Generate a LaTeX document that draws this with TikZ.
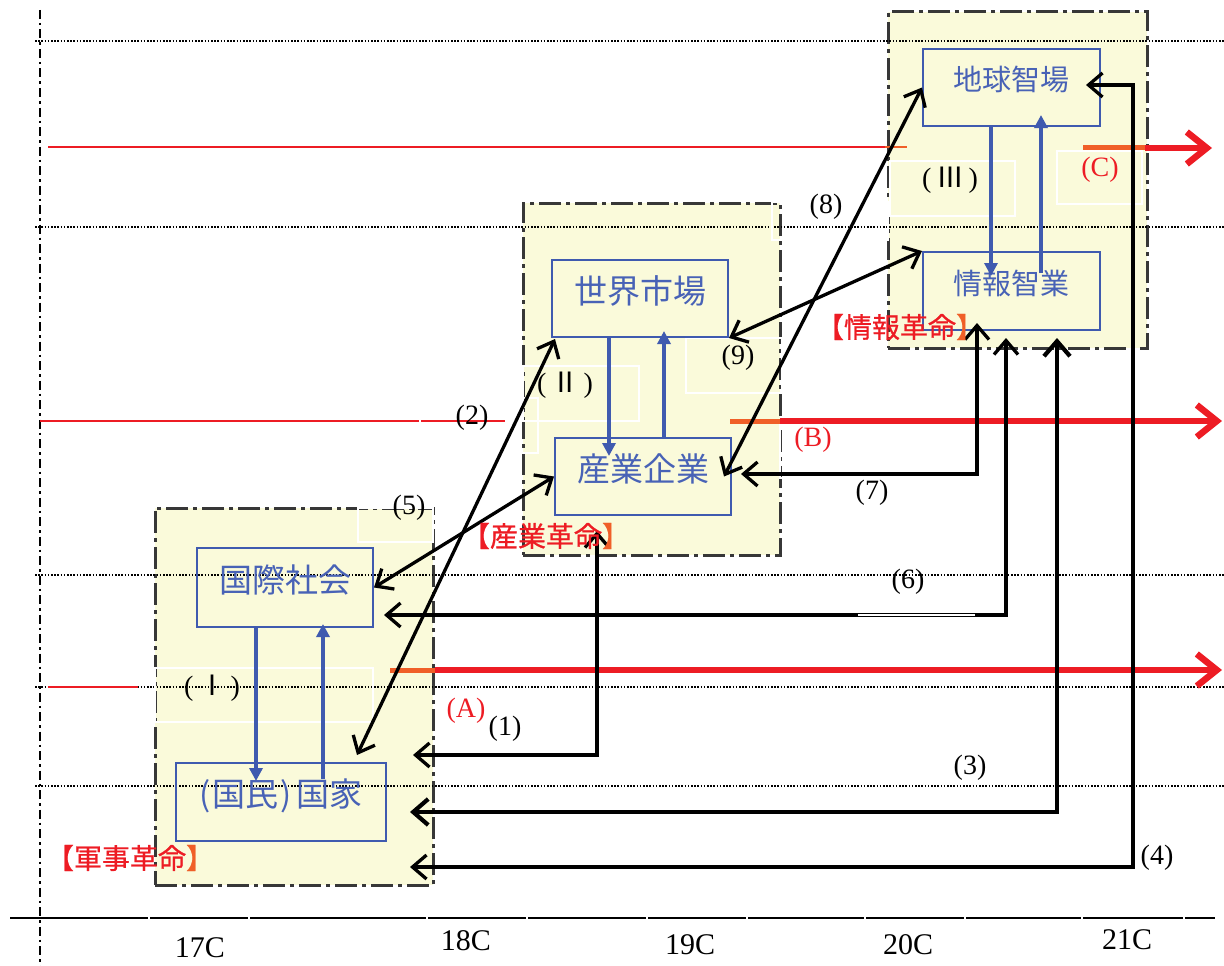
\documentclass[tikz,border=0pt]{standalone}
\usepackage{fontspec}
\setmainfont{Liberation Serif}
\newfontfamily\cjk{Noto Sans CJK JP}
\newfontfamily\cjkbold[FakeBold=0.8]{Noto Sans CJK JP}
\usetikzlibrary{arrows.meta,calc}
\definecolor{boxfill}{RGB}{250,250,218}
\definecolor{bluebox}{RGB}{63,90,175}
\definecolor{bluetext}{RGB}{72,98,182}
\definecolor{redline}{RGB}{237,28,36}
\definecolor{orangeline}{RGB}{240,95,40}
\definecolor{bordergray}{RGB}{55,55,55}
\begin{document}
\begin{tikzpicture}[x=1pt,y=-1pt,
  bigbox/.style={draw=bordergray, fill=boxfill, line width=3pt,
     dash pattern=on 22pt off 5pt on 4pt off 5pt, inner sep=0pt},
  bluenode/.style={draw=bluebox, line width=2pt, inner sep=0pt,
     font=\cjk\fontsize{29}{31}\selectfont, text=bluetext,
     text height=25pt, text depth=18pt},
  bigtext/.style={font=\cjk\fontsize{33}{35}\selectfont, text height=28pt, text depth=19pt},
  dotline/.style={line width=2pt, dash pattern=on 1.6pt off 1.6pt},
  thinred/.style={draw=redline, line width=2pt},
  redarrow/.style={draw=redline, line width=6.5pt, -{Straight Barb[length=20pt,width=32pt]}},
  orangeseg/.style={draw=orangeline, line width=5pt},
  whiterect/.style={draw=white, line width=1.5pt},
  bluearr/.style={draw=bluebox, line width=3.5pt, -{Triangle[length=13pt,width=13pt]}},
  conn/.style={line width=3.3pt, {Straight Barb[length=14pt,width=24pt]}-{Straight Barb[length=14pt,width=24pt]}},
  connthick/.style={line width=4.2pt, {Straight Barb[length=15pt,width=26pt]}-{Straight Barb[length=15pt,width=26pt]}},
  numlab/.style={font=\fontsize{28}{30}\selectfont, inner sep=0pt},
  redlab/.style={font=\fontsize{28}{30}\selectfont, text=redline, inner sep=0pt},
  revlab/.style={font=\cjkbold\fontsize{28}{30}\selectfont, text=redline, inner sep=0pt},
  axislab/.style={font=\fontsize{30}{32}\selectfont, inner sep=0pt}
]
\useasboundingbox (0,0) rectangle (1224,966);

% big era boxes
\node[bigbox, minimum width=278pt, minimum height=377pt] (boxI) at (294,696.5) {};
\node[bigbox, minimum width=257pt, minimum height=352pt] (boxII) at (651.5,379) {};
\node[bigbox, minimum width=259pt, minimum height=336pt] (boxIII) at (1017.5,180) {};

% vertical dash-dot line and dotted grid
\draw[line width=2.5pt, dash pattern=on 9pt off 4pt on 2.5pt off 4pt] (40,10) -- (40,966);
\foreach \yy in {41,227,575,687,786}
  \draw[dotline] (35,\yy) -- (1224,\yy);

% thin red lines
\draw[thinred] (48,147) -- (885,147);
\draw[draw=orangeline, line width=2pt] (885,147) -- (907,147);
\draw[thinred] (40,421) -- (505,421);
\draw[thinred] (48,687) -- (138,687);

% faint white label frames
\draw[whiterect] (155,668) rectangle (373,722);
\draw[whiterect] (523,366) rectangle (639,421);
\draw[whiterect] (420,398) rectangle (538,453);
\draw[whiterect] (358,508) rectangle (433,542);
\draw[whiterect] (686,338) rectangle (782,393);
\draw[whiterect] (890,161) rectangle (1015,216);
\draw[whiterect] (1057,151) rectangle (1142,204);
\draw[whiterect] (780,425) rectangle (863,478);
\draw[whiterect] (772,202) rectangle (888,240);

% thick red arrows
\draw[orangeseg] (1083,147) -- (1147,147);
\draw[redarrow] (1145,148) -- (1212,148);
\draw[orangeseg] (730,421) -- (782,421);
\draw[redarrow] (780,421) -- (1222,421);
\draw[orangeseg] (390,670) -- (437,670);
\draw[redarrow] (435,670) -- (1222,670);

% blue nodes
\node[bluenode, minimum width=177pt, minimum height=77pt] (gs) at (1011.5,87.5) {地球智場};
\node[bluenode, minimum width=177pt, minimum height=78pt] (jc) at (1011.5,291) {情報智業};
\node[bluenode, bigtext, minimum width=176pt, minimum height=77pt] (sk) at (640,298.5) {世界市場};
\node[bluenode, bigtext, minimum width=176pt, minimum height=77pt] (sg) at (643,476.5) {産業企業};
\node[bluenode, bigtext, minimum width=176pt, minimum height=79pt] (ks) at (285,587.5) {国際社会};
\node[bluenode, bigtext, minimum width=210pt, minimum height=78pt] (kk) at (281,802)
  {(\hspace{2pt}国民\hspace{2pt})\hspace{4pt}国家};

% blue internal arrows
\draw[bluearr] ($(gs.south)+(-20.5,0)$) -- ($(jc.north)+(-20.5,25)$);
\draw[bluearr] ($(jc.north)+(29.5,22)$) -- ($(gs.south)+(29.5,-12)$);
\draw[bluearr] ($(sk.south)+(-31,0)$) -- ($(sg.north)+(-34,19)$);
\draw[bluearr] ($(sg.north)+(21,0)$) -- ($(sk.south)+(24,-7)$);
\draw[bluearr] ($(ks.south)+(-29,0)$) -- ($(kk.north)+(-25,19)$);
\draw[bluearr] ($(kk.north)+(42,17)$) -- ($(ks.south)+(38,-4)$);

% free ends of connectors
\coordinate (e1) at (413,755);
\coordinate (e3) at (410,812);
\coordinate (e4) at (410,867);
\coordinate (c4) at (1133,867);
\coordinate (e2) at (357,755);

% black connectors
\draw[conn] ($(sg.south)+(-46,15)$) |- (e1);
\draw[conn] (e2) -- ($(sk.south west)+(4,1)$);
\draw[connthick] ($(jc.south)+(45.5,7)$) |- (e3);
\draw[conn] ($(gs.east)+(-15,-2.5)$) -| (c4) -- (e4);
\draw[conn] (ks.east) -- (sg.west);
\draw[conn] ($(jc.south)+(-5.5,7)$) |- ($(ks.east)+(10,27.5)$);
\draw[conn] ($(jc.south)+(-34.5,-8)$) |- ($(sg.east)+(9,-2.5)$);
\draw[conn] (gs.west) -- ($(sg.east)+(-8,0)$);
\draw[conn] (sk.south east) -- (jc.north west);

% small white gaps in connectors
\draw[white, line width=1.2pt] (858,615) -- (975,615);

% number labels
\node[numlab] (n1) at (505,729) {(1)};
\node[numlab] (n2) at (472,418) {(2)};
\node[numlab] (n3) at (970,768) {(3)};
\node[numlab] (n4) at (1157,858) {(4)};
\node[numlab] (n5) at (409,508) {(5)};
\node[numlab] (n6) at (908,582) {(6)};
\node[numlab] (n7) at (872,493) {(7)};
\node[numlab] (n8) at (826,207) {(8)};
\node[numlab] (n9) at (738,358) {(9)};
\node[redlab] (lA) at (466,711) {(A)};
\node[redlab] (lB) at (813,440) {(B)};
\node[redlab] (lC) at (1100,170) {(C)};
\node[numlab] (r1) at (212,688) {(\,{\cjk Ⅰ}\,)};
\node[numlab] (r2) at (565,385) {(\,{\cjk Ⅱ}\,)};
\node[numlab] (r3) at (950,180) {(\,{\cjk Ⅲ}\,)};

% revolution labels
\node[revlab] (rev1) at (130,858) {【軍事革命\textcolor{orangeline}{】}};
\node[revlab] (rev2) at (546,536) {【産業革命\textcolor{orangeline}{】}};
\node[revlab] (rev3) at (900,327) {【情報革命\textcolor{orangeline}{】}};

% time axis
\draw[line width=2.5pt] (10,918) -- (1215,918);
\foreach \gx in {149,249,427,527,647,747,865,965,1082,1184}
  \draw[white, line width=1.5pt] (\gx,915.5) -- (\gx,920.5);
\node[axislab] (t17) at (200,948) {17C};
\node[axislab] (t18) at (466,941) {18C};
\node[axislab] (t19) at (690,945) {19C};
\node[axislab] (t20) at (908,945) {20C};
\node[axislab] (t21) at (1127,940) {21C};
\end{tikzpicture}
\end{document}
